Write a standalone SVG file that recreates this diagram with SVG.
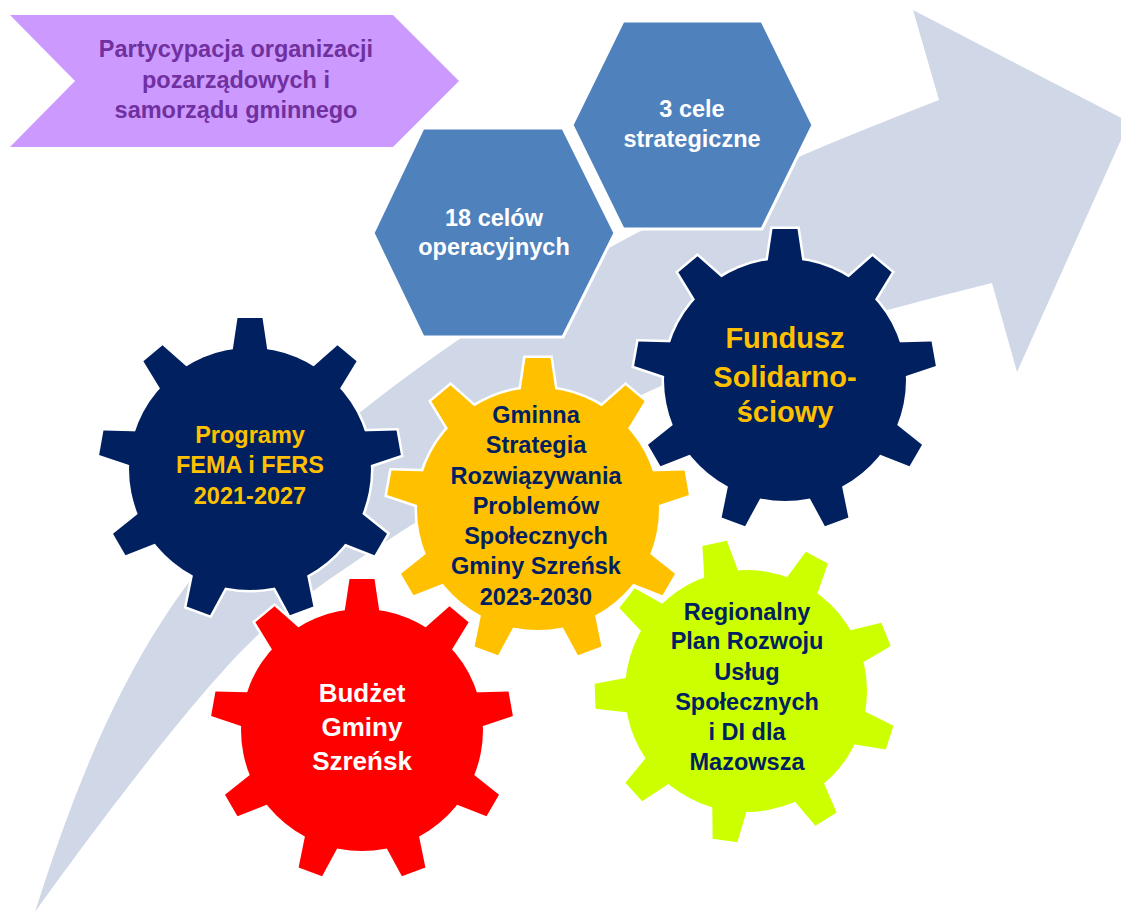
<svg xmlns="http://www.w3.org/2000/svg" xmlns:xlink="http://www.w3.org/1999/xlink" width="1121" height="912" viewBox="0 0 1121 912">
<style>
.t{font-family:"Liberation Sans",Arial,sans-serif;font-weight:bold;text-anchor:middle;font-size:23.5px}
.hex{fill:#4F81BD;stroke:#fff;stroke-width:3}
.wb{fill:#fff;stroke:#fff;stroke-width:5;stroke-linejoin:miter}
</style>
<defs>
<path id="tooth" d="M-19.4,-105 L-12.5,-151 L12.5,-151 L19.4,-105 Z"/>
<g id="gear">
<circle r="121"/>
<use href="#tooth"/>
<use href="#tooth" transform="rotate(40)"/>
<use href="#tooth" transform="rotate(80)"/>
<use href="#tooth" transform="rotate(120)"/>
<use href="#tooth" transform="rotate(160)"/>
<use href="#tooth" transform="rotate(200)"/>
<use href="#tooth" transform="rotate(240)"/>
<use href="#tooth" transform="rotate(280)"/>
<use href="#tooth" transform="rotate(320)"/>
</g>
</defs>
<rect width="1121" height="912" fill="#fff"/>
<g id="connectors">
<path id="big-arrow" fill="#D0D8E8" d="M35,912 C118,650 198,540 363,410 C551,262 726,182.5 939,100 L913,10 L1129,122 L1017,372 L992,283 C932,298 763,340 663,385 C563,430 340,561 260,633 C200,687 85,842 35,912 Z"/>
</g>
<g id="participation">
<polygon points="10,15 393,15 459,81 393,147 10,147 75,81" fill="#CC99FF"/>
<text class="t" fill="#7030A0"><tspan x="236" y="57">Partycypacja organizacji</tspan><tspan x="236" y="87.5">pozarządowych i</tspan><tspan x="236" y="118">samorządu gminnego</tspan></text>
</g>
<g id="strategic-goals">
<polygon class="hex" points="623,21 762,21 813,125 762,229 623,229 572,125"/>
<text class="t" fill="#fff"><tspan x="692" y="117">3 cele</tspan><tspan x="692" y="147">strategiczne</tspan></text>
</g>
<g id="operational-goals">
<polygon class="hex" points="423,128 563,128 615,233 563,337 423,337 373,233"/>
<text class="t" fill="#fff"><tspan x="494" y="226">18 celów</tspan><tspan x="494" y="255">operacyjnych</tspan></text>
</g>
<g id="gear-programy">
<use href="#gear" class="wb" transform="translate(250,469)"/>
<use href="#gear" fill="#002060" transform="translate(250,469)"/>
<text class="t" fill="#FFC000"><tspan x="250" y="443">Programy</tspan><tspan x="250" y="473">FEMA i FERS</tspan><tspan x="250" y="504">2021-2027</tspan></text>
</g>
<g id="gear-fundusz">
<use href="#gear" class="wb" transform="translate(785,380)"/>
<use href="#gear" fill="#002060" transform="translate(785,380)"/>
<text class="t" fill="#FFC000" style="font-size:29px"><tspan x="785" y="348">Fundusz</tspan><tspan x="785" y="387">Solidarno-</tspan><tspan x="785" y="422">ściowy</tspan></text>
</g>
<g id="gear-strategia">
<use href="#gear" class="wb" transform="translate(538,509)"/>
<use href="#gear" fill="#FFC000" transform="translate(538,509)"/>
<text class="t" fill="#002060"><tspan x="536" y="423">Gminna</tspan><tspan x="536" y="453">Strategia</tspan><tspan x="536" y="483.5">Rozwiązywania</tspan><tspan x="536" y="514">Problemów</tspan><tspan x="536" y="544">Społecznych</tspan><tspan x="536" y="574">Gminy Szreńsk</tspan><tspan x="536" y="605">2023-2030</tspan></text>
</g>
<g id="gear-budzet">
<use href="#gear" class="wb" transform="translate(362,730)"/>
<use href="#gear" fill="#FF0000" transform="translate(362,730)"/>
<text class="t" fill="#fff" style="font-size:26px"><tspan x="362" y="702">Budżet</tspan><tspan x="362" y="736">Gminy</tspan><tspan x="362" y="770">Szreńsk</tspan></text>
</g>
<g id="gear-regionalny">
<use href="#gear" class="wb" transform="translate(746,691) rotate(-12)"/>
<use href="#gear" fill="#CCFF00" transform="translate(746,691) rotate(-12)"/>
<text class="t" fill="#002060"><tspan x="747" y="620">Regionalny</tspan><tspan x="747" y="649">Plan Rozwoju</tspan><tspan x="747" y="680">Usług</tspan><tspan x="747" y="710">Społecznych</tspan><tspan x="747" y="740">i DI dla</tspan><tspan x="747" y="770">Mazowsza</tspan></text>
</g>
</svg>
